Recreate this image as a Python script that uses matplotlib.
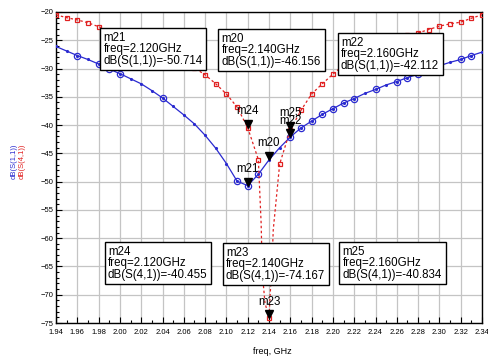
import numpy as np
import matplotlib
matplotlib.use('Agg')
import matplotlib.pyplot as plt
from matplotlib.ticker import MultipleLocator, FormatStrFormatter
from matplotlib.transforms import offset_copy

plt.rcParams['font.family'] = ['Liberation Sans', 'DejaVu Sans']

# sweep points, GHz
freq = [1.94, 1.95, 1.96, 1.97, 1.98, 1.99, 2.00, 2.01, 2.02, 2.03, 2.04,
        2.05, 2.06, 2.07, 2.08, 2.09, 2.10, 2.11, 2.12, 2.13, 2.14,
        2.15, 2.16, 2.17, 2.18, 2.19, 2.20, 2.21, 2.22, 2.23, 2.24,
        2.25, 2.26, 2.27, 2.28, 2.29, 2.30, 2.31, 2.32, 2.33, 2.34]

# dB(S(1,1))
s11 = [-26.1, -26.9, -27.7, -28.4, -29.2, -30.1, -30.9, -31.8, -32.7, -33.9, -35.2,
       -36.7, -38.2, -39.8, -41.8, -44.1, -46.8, -49.9, -50.714, -48.7, -46.156,
       -44.0, -42.112, -40.5, -39.3, -38.1, -37.1, -36.1, -35.3, -34.4, -33.7,
       -32.9, -32.3, -31.6, -31.0, -30.2, -29.5, -28.9, -28.4, -27.7, -27.1]

# dB(S(4,1))
s41 = [-20.5, -21.0, -21.4, -21.9, -22.6, -23.3, -24.0, -24.8, -25.6, -26.4, -27.2,
       -28.0, -28.9, -29.9, -31.1, -32.7, -34.5, -36.8, -40.455, -46.1, -74.167,
       -46.9, -40.834, -37.4, -34.5, -32.7, -31.0, -29.4, -28.1, -27.0, -26.0,
       -25.2, -24.6, -24.1, -23.7, -23.1, -22.5, -22.1, -21.8, -21.1, -20.5]

# extra points read off the notch of S(4,1) (no symbols there)
notch_freq = [2.1326, 2.1337, 2.1362, 2.141, 2.1426, 2.144]
notch_db = [-57.3, -66.1, -71.4, -70.2, -65.5, -58.5]

# sweep points drawn with an open circle on S(1,1), the rest get a dot
s11_circle_freq = [1.96, 1.98, 1.99, 2.00, 2.04, 2.11, 2.12, 2.13, 2.16, 2.17, 2.18,
                   2.19, 2.20, 2.21, 2.22, 2.24, 2.26, 2.27, 2.28, 2.32, 2.33]

# markers: name, trace, freq
marker_names = ['m21', 'm20', 'm22', 'm24', 'm23', 'm25']
marker_trace = ['S(1,1)', 'S(1,1)', 'S(1,1)', 'S(4,1)', 'S(4,1)', 'S(4,1)']
marker_freq = [2.12, 2.14, 2.16, 2.12, 2.14, 2.16]

# readout box corners (axes fraction, top-left)
box_pos = [(0.103, 0.949), (0.380, 0.945), (0.660, 0.932),
           (0.113, 0.261), (0.390, 0.257), (0.664, 0.261)]

blue = '#2a2ad0'
red = '#e02020'

fig = plt.figure(figsize=(4.88, 3.6), dpi=100)
ax = fig.add_axes([56 / 488, 1 - 323 / 360, 426 / 488, 311 / 360])

# S(1,1)
ax.plot(freq, s11, color=blue, lw=0.9, marker='.', ms=2.5, zorder=3)
circ_db = [s11[freq.index(f)] for f in s11_circle_freq]
ax.plot(s11_circle_freq, circ_db, ls='none', marker='o', mfc='none', mec=blue,
        ms=4.5, mew=0.9, zorder=3)

# S(4,1)
pts = sorted(zip(freq + notch_freq, s41 + notch_db))
ax.plot([p[0] for p in pts], [p[1] for p in pts], color=red, lw=0.9,
        ls=(0, (2, 2)), zorder=3)
ax.plot(freq, s41, ls='none', marker='s', mfc='none', mec=red, ms=3.2,
        mew=0.9, zorder=3)

# marker triangles, tip on the trace
tri = offset_copy(ax.transData, fig=fig, y=2.8, units='points')
traces = {'S(1,1)': s11, 'S(4,1)': s41}
for name, tr, f, (bx, by) in zip(marker_names, marker_trace, marker_freq, box_pos):
    v = traces[tr][freq.index(f)]
    ax.plot([f], [v], marker='v', color='black', ms=5.8, transform=tri,
            clip_on=False, zorder=5)
    ax.annotate(name, (f, v), xytext=(0, 7.5), textcoords='offset points',
                ha='center', va='bottom', fontsize=8.3, zorder=6)
    txt = '%s\nfreq=%.3fGHz\ndB(%s)=%.3f' % (name, f, tr, v)
    ax.text(bx + 0.009, by - 0.012, txt, transform=ax.transAxes, ha='left',
            va='top', fontsize=8.3, linespacing=0.95, zorder=7,
            bbox=dict(boxstyle='square,pad=0.3', fc='white', ec='black', lw=1))

ax.set_xlim(1.94, 2.34)
ax.set_ylim(-75, -20)
ax.xaxis.set_major_locator(MultipleLocator(0.02))
ax.xaxis.set_minor_locator(MultipleLocator(0.01))
ax.xaxis.set_major_formatter(FormatStrFormatter('%.2f'))
ax.yaxis.set_major_locator(MultipleLocator(5))
ax.yaxis.set_minor_locator(MultipleLocator(1))
ax.tick_params(which='both', direction='in', labelsize=5.5, width=0.8)
ax.tick_params(which='major', length=4)
ax.tick_params(which='minor', length=2)
ax.tick_params(axis='x', pad=4)
ax.tick_params(axis='y', pad=2)
ax.grid(True, which='major', color='#c4c4c4', lw=0.9)
for sp in ax.spines.values():
    sp.set_linewidth(1.0)

fig.text(14 / 488, 1 - 161 / 360, 'dB(S(1,1))', rotation=90, color=blue,
         fontsize=5.5, ha='center', va='center')
fig.text(22 / 488, 1 - 161 / 360, 'dB(S(4,1))', rotation=90, color=red,
         fontsize=5.5, ha='center', va='center')
fig.text(272 / 488, 1 - 352 / 360, 'freq, GHz', ha='center', va='center',
         fontsize=6.5)

fig.savefig('out.png', dpi=100)
